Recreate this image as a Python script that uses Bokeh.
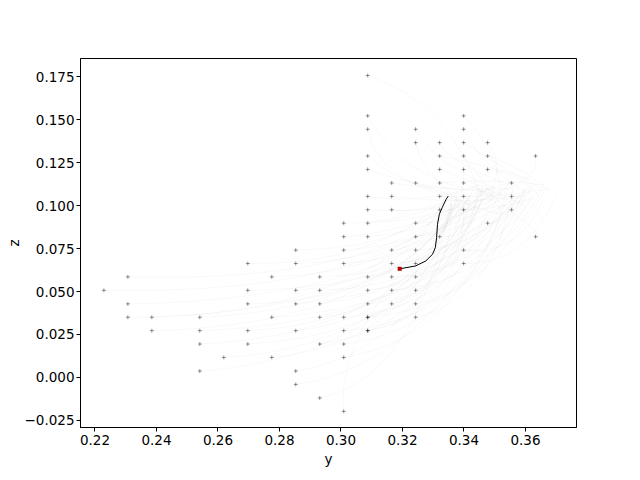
from bokeh.plotting import figure
from bokeh.models import FixedTicker, CustomJSTickFormatter, Range1d, ColumnDataSource
from bokeh.embed import file_html
from bokeh.resources import INLINE

# ---- data ----
# grid of start markers (x axis "y", y axis "z")
start_y = [
    0.3087,
    0.3087, 0.3399,
    0.3087, 0.3243, 0.3399,
    0.3243, 0.3321, 0.3399, 0.3477,
    0.3087, 0.3321, 0.3399, 0.3477, 0.3633,
    0.3087, 0.3321, 0.3399, 0.3477,
    0.3165, 0.3243, 0.3321, 0.3399, 0.3555,
    0.3087, 0.3165, 0.3321, 0.3399, 0.3555,
    0.3087, 0.3165, 0.3321, 0.3399, 0.3555,
    0.3009, 0.3087, 0.3243, 0.3477,
    0.3009, 0.3087, 0.3243, 0.3321, 0.3633,
    0.2853, 0.3009, 0.3165, 0.3243, 0.3399,
    0.2697, 0.2853, 0.3009, 0.3165, 0.3243, 0.3399,
    0.2307, 0.2775, 0.2931, 0.3087, 0.3165, 0.3243,
    0.2229, 0.2697, 0.2853, 0.2931, 0.3087, 0.3165, 0.3243,
    0.2307, 0.2697, 0.2853, 0.2931, 0.3087, 0.3165, 0.3243,
    0.2307, 0.2385, 0.2541, 0.2775, 0.2931, 0.3009, 0.3087, 0.3087, 0.3243,
    0.2385, 0.2541, 0.2697, 0.2853, 0.3009, 0.3087, 0.3087,
    0.2541, 0.2697, 0.2931, 0.3009,
    0.2619, 0.2775, 0.3009,
    0.2541, 0.2853,
    0.2853,
    0.2931,
    0.3009,
]
start_z = [
    0.1758,
    0.1523, 0.1523,
    0.1445, 0.1445, 0.1445,
    0.1367, 0.1367, 0.1367, 0.1367,
    0.1289, 0.1289, 0.1289, 0.1289, 0.1289,
    0.1211, 0.1211, 0.1211, 0.1211,
    0.1132, 0.1132, 0.1132, 0.1132, 0.1132,
    0.1054, 0.1054, 0.1054, 0.1054, 0.1054,
    0.0976, 0.0976, 0.0976, 0.0976, 0.0976,
    0.0898, 0.0898, 0.0898, 0.0898,
    0.0819, 0.0819, 0.0819, 0.0819, 0.0819,
    0.0741, 0.0741, 0.0741, 0.0741, 0.0741,
    0.0663, 0.0663, 0.0663, 0.0663, 0.0663, 0.0663,
    0.0585, 0.0585, 0.0585, 0.0585, 0.0585, 0.0585,
    0.0507, 0.0507, 0.0507, 0.0507, 0.0507, 0.0507, 0.0507,
    0.0428, 0.0428, 0.0428, 0.0428, 0.0428, 0.0428, 0.0428,
    0.0350, 0.0350, 0.0350, 0.0350, 0.0350, 0.0350, 0.0350, 0.0350, 0.0350,
    0.0272, 0.0272, 0.0272, 0.0272, 0.0272, 0.0272, 0.0272,
    0.0194, 0.0194, 0.0194, 0.0194,
    0.0116, 0.0116, 0.0116,
    0.0037, 0.0037,
    -0.0041,
    -0.0120,
    -0.0198,
]
# faint trajectory curves: end points and curve control points
end_y = [
    0.345,
    0.340, 0.352,
    0.336, 0.350, 0.360,
    0.338, 0.355, 0.365, 0.345,
    0.340, 0.362, 0.350, 0.368, 0.345,
    0.348, 0.360, 0.338, 0.365,
    0.356, 0.342, 0.366, 0.352, 0.340,
    0.345, 0.360, 0.368, 0.335, 0.344,
    0.350, 0.338, 0.362, 0.355, 0.340,
    0.336, 0.352, 0.345, 0.360,
    0.348, 0.338, 0.358, 0.346, 0.350,
    0.334, 0.356, 0.342, 0.362, 0.366,
    0.335, 0.350, 0.340, 0.362, 0.346, 0.370,
    0.338, 0.348, 0.356, 0.336, 0.364, 0.345,
    0.340, 0.352, 0.334, 0.360, 0.346, 0.366, 0.340,
    0.346, 0.338, 0.358, 0.342, 0.362, 0.336, 0.354,
    0.334, 0.350, 0.344, 0.360, 0.338, 0.352, 0.366, 0.342, 0.356,
    0.340, 0.356, 0.346, 0.336, 0.362, 0.350, 0.344,
    0.338, 0.352, 0.344, 0.360,
    0.342, 0.336, 0.354,
    0.346, 0.340,
    0.358,
    0.336,
    0.340,
]
end_z = [
    0.108,
    0.110, 0.105,
    0.106, 0.110, 0.108,
    0.104, 0.112, 0.110, 0.100,
    0.102, 0.115, 0.104, 0.108, 0.106,
    0.108, 0.100, 0.098, 0.104,
    0.110, 0.100, 0.112, 0.098, 0.104,
    0.112, 0.106, 0.110, 0.100, 0.110,
    0.105, 0.108, 0.104, 0.114, 0.102,
    0.104, 0.108, 0.100, 0.110,
    0.110, 0.100, 0.106, 0.112, 0.104,
    0.100, 0.108, 0.106, 0.110, 0.104,
    0.104, 0.108, 0.100, 0.112, 0.104, 0.106,
    0.102, 0.110, 0.104, 0.098, 0.108, 0.112,
    0.104, 0.100, 0.106, 0.110, 0.104, 0.112, 0.098,
    0.108, 0.104, 0.106, 0.100, 0.110, 0.102, 0.112,
    0.100, 0.106, 0.112, 0.104, 0.108, 0.100, 0.108, 0.104, 0.110,
    0.106, 0.100, 0.110, 0.102, 0.106, 0.112, 0.100,
    0.104, 0.108, 0.102, 0.110,
    0.106, 0.100, 0.104,
    0.108, 0.100,
    0.106,
    0.104,
    0.100,
]
ctrl_y = [
    0.335,
    0.318, 0.352,
    0.312, 0.330, 0.345,
    0.326, 0.335, 0.350, 0.355,
    0.320, 0.345, 0.345, 0.360, 0.365,
    0.325, 0.345, 0.340, 0.360,
    0.335, 0.335, 0.350, 0.348, 0.350,
    0.325, 0.340, 0.350, 0.340, 0.355,
    0.328, 0.330, 0.348, 0.350, 0.352,
    0.322, 0.332, 0.335, 0.356,
    0.326, 0.330, 0.340, 0.345, 0.368,
    0.318, 0.330, 0.332, 0.345, 0.358,
    0.310, 0.320, 0.330, 0.340, 0.338, 0.360,
    0.310, 0.320, 0.330, 0.330, 0.345, 0.340,
    0.312, 0.325, 0.322, 0.335, 0.335, 0.350, 0.340,
    0.318, 0.322, 0.330, 0.330, 0.342, 0.336, 0.348,
    0.305, 0.318, 0.320, 0.330, 0.328, 0.338, 0.345, 0.335, 0.350,
    0.315, 0.325, 0.325, 0.325, 0.340, 0.338, 0.335,
    0.322, 0.328, 0.330, 0.340,
    0.322, 0.325, 0.338,
    0.320, 0.325,
    0.325,
    0.325,
    0.298,
]
ctrl_z = [
    0.160,
    0.120, 0.130,
    0.115, 0.125, 0.125,
    0.120, 0.125, 0.125, 0.120,
    0.112, 0.125, 0.118, 0.122, 0.112,
    0.110, 0.112, 0.112, 0.118,
    0.108, 0.108, 0.116, 0.108, 0.112,
    0.100, 0.100, 0.104, 0.108, 0.100,
    0.095, 0.095, 0.096, 0.100, 0.092,
    0.090, 0.092, 0.090, 0.090,
    0.085, 0.085, 0.085, 0.080, 0.080,
    0.075, 0.078, 0.078, 0.075, 0.070,
    0.065, 0.068, 0.070, 0.068, 0.070, 0.065,
    0.055, 0.060, 0.060, 0.062, 0.060, 0.062,
    0.048, 0.052, 0.055, 0.052, 0.055, 0.055, 0.058,
    0.045, 0.045, 0.048, 0.050, 0.048, 0.052, 0.050,
    0.035, 0.040, 0.040, 0.040, 0.042, 0.040, 0.040, 0.045, 0.045,
    0.030, 0.032, 0.032, 0.035, 0.032, 0.035, 0.035,
    0.025, 0.025, 0.028, 0.028,
    0.018, 0.020, 0.022,
    0.012, 0.015,
    0.005,
    0.000,
    0.030,
]
# highlighted trajectory (black) ending at the red point
path_y = [0.3349, 0.3342, 0.3329, 0.3320, 0.3314, 0.3311, 0.3307, 0.3298, 0.3276, 0.3243, 0.3191]
path_z = [0.1056, 0.1037, 0.0988, 0.0950, 0.0892, 0.0814, 0.0756, 0.0717, 0.0678, 0.0649, 0.0632]
current_y = [0.3191]
current_z = [0.0632]

x_ticks = [0.22, 0.24, 0.26, 0.28, 0.30, 0.32, 0.34, 0.36]
z_ticks = [-0.025, 0.0, 0.025, 0.05, 0.075, 0.1, 0.125, 0.15, 0.175]

# ---- figure ----
p = figure(width=632, height=472, output_backend="svg", toolbar_location=None,
           x_range=Range1d(0.2153, 0.3766), y_range=Range1d(-0.0292, 0.1857),
           min_border_left=80, min_border_right=56, min_border_top=58, min_border_bottom=45)
p.background_fill_color = "white"
p.border_fill_color = "white"
p.outline_line_color = "black"
p.outline_line_width = 1
p.xgrid.visible = False
p.ygrid.visible = False

traj = ColumnDataSource(dict(x0=start_y, y0=start_z, x1=end_y, y1=end_z, cx=ctrl_y, cy=ctrl_z))
p.quadratic(x0="x0", y0="y0", x1="x1", y1="y1", cx="cx", cy="cy", source=traj,
            line_color="black", line_alpha=0.05, line_width=0.6)

p.scatter(start_y, start_z, marker="cross", size=4, line_color="black", line_alpha=0.4, line_width=1)
p.line(path_y, path_z, line_color="black", line_width=1)
p.scatter(current_y, current_z, marker="square", size=3.5, fill_color="#cc0000", line_color="#880000", line_width=0.5)

for ax in (p.xaxis[0], p.yaxis[0]):
    ax.axis_line_color = "black"
    ax.major_tick_line_color = "black"
    ax.major_tick_out = 4
    ax.major_tick_in = 0
    ax.minor_tick_line_color = None
    ax.major_label_text_font = "DejaVu Sans"
    ax.major_label_text_font_size = "13.5px"
    ax.major_label_text_color = "black"
    ax.major_label_standoff = 3
    ax.axis_label_text_font = "DejaVu Sans"
    ax.axis_label_text_font_size = "13.5px"
    ax.axis_label_text_font_style = "normal"
    ax.axis_label_text_color = "black"
    ax.axis_label_standoff = 3

p.yaxis.axis_label_standoff = 0
p.yaxis.major_label_standoff = 2
p.xaxis.axis_label = "y"
p.yaxis.axis_label = "z"
p.xaxis.ticker = FixedTicker(ticks=x_ticks)
p.yaxis.ticker = FixedTicker(ticks=z_ticks)
p.xaxis.formatter = CustomJSTickFormatter(code="return (tick < 0 ? '\u2212' : '') + Math.abs(tick).toFixed(2);")
p.yaxis.formatter = CustomJSTickFormatter(code="return (tick < -1e-9 ? '\u2212' : '') + Math.abs(tick).toFixed(3);")

open("out.html", "w").write(file_html(p, INLINE))
